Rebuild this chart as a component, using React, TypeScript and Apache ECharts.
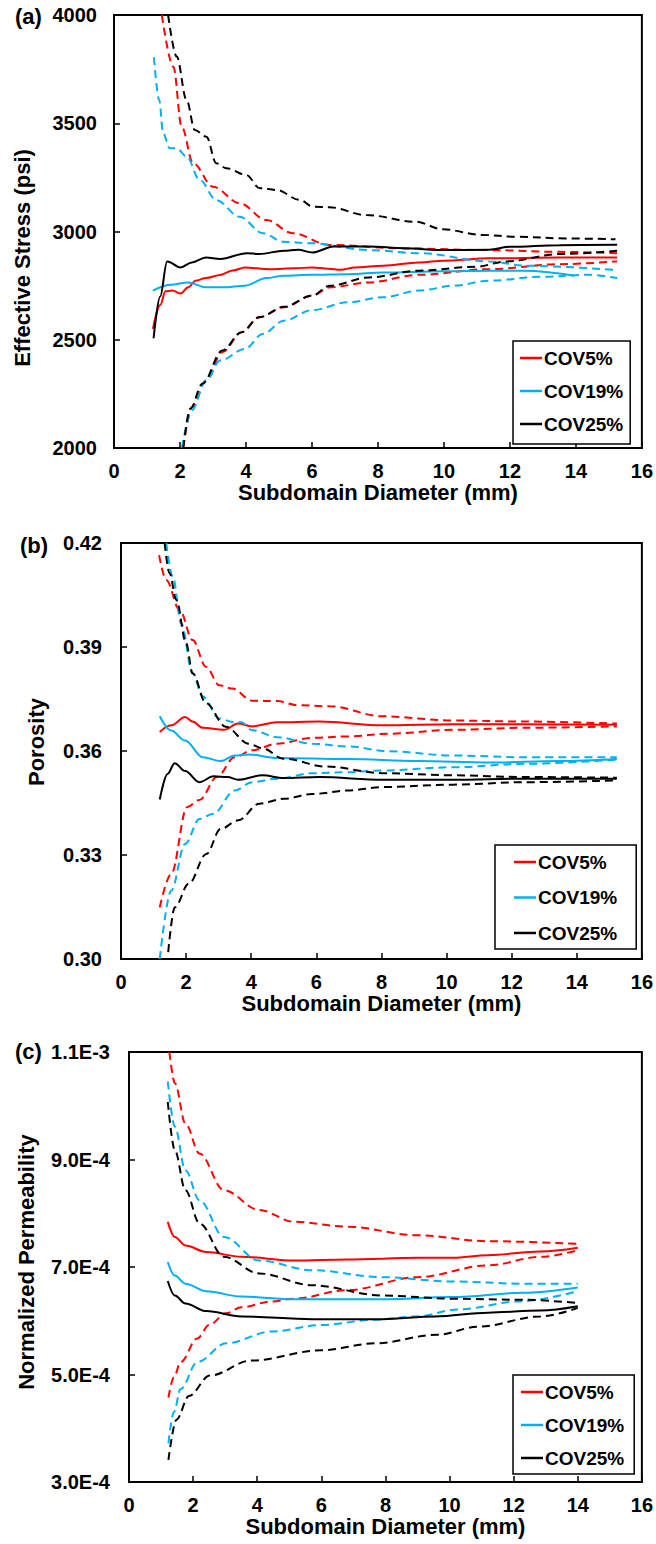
import React, { useEffect, useRef } from "react";
import * as echarts from "echarts";

// ---------- DATA ----------
const xTicksMax = 16;
const covNames = ["COV5%", "COV19%", "COV25%"];

// (a) Effective stress (psi): [diameter mm, value]
const stressCov5Mean: number[][] = [[1.18,2550],[1.4,2660],[1.56,2724],[1.77,2727],[2.02,2714],[2.25,2742],[2.47,2773],[2.79,2785],[3.22,2799],[3.6,2820],[3.97,2834],[4.73,2826],[5.5,2830],[6.01,2834],[6.5,2828],[6.87,2823],[7.3,2834],[8.16,2842],[9.24,2857],[9.99,2865],[11.38,2876],[13.5,2880],[15.25,2880]];
const stressCov5Upper: number[][] = [[1.45,4000],[1.8,3761],[2.05,3484],[2.4,3315],[3.0,3207],[3.81,3130],[4.62,3053],[5.42,2992],[6.53,2938],[8.8,2922],[11.38,2914],[13.5,2906],[15.25,2900]];
const stressCov5Lower: number[][] = [[2.1,2000],[2.36,2189],[2.79,2312],[3.28,2442],[3.87,2535],[4.4,2604],[5.15,2650],[6.01,2704],[6.55,2742],[7.73,2765],[9.24,2800],[11.38,2826],[13.5,2849],[15.25,2862]];
const stressCov19Mean: number[][] = [[1.18,2727],[1.72,2754],[2.25,2765],[2.79,2742],[3.33,2742],[3.97,2750],[4.62,2785],[5.15,2796],[6.01,2800],[7.09,2803],[8.16,2811],[9.99,2816],[11.38,2819],[12.46,2819],[13.96,2796]];
const stressCov19Upper: number[][] = [[1.21,3805],[1.37,3607],[1.49,3454],[1.69,3384],[1.9,3384],[2.2,3346],[2.6,3238],[3.1,3145],[3.81,3068],[4.52,2992],[5.12,2953],[5.93,2946],[7.73,2914],[9.24,2900],[11.38,2862],[12.46,2842],[15.25,2822]];
const stressCov19Lower: number[][] = [[2.06,2000],[2.36,2174],[2.79,2312],[3.22,2404],[3.97,2458],[4.51,2527],[5.15,2588],[6.01,2637],[7.09,2673],[8.16,2696],[9.24,2727],[10.31,2750],[11.38,2773],[12.99,2791],[14.39,2800],[15.25,2785]];
const stressCov25Mean: number[][] = [[1.2,2507],[1.4,2700],[1.61,2862],[2.02,2834],[2.36,2857],[2.79,2880],[3.22,2873],[4.03,2900],[4.4,2896],[5.15,2911],[5.58,2916],[6.01,2903],[6.66,2931],[7.73,2931],[8.8,2923],[9.99,2914],[11.38,2916],[12.0,2929],[13.5,2937],[15.25,2939]];
const stressCov25Upper: number[][] = [[1.64,4000],[1.9,3808],[2.2,3607],[2.45,3469],[2.8,3438],[3.1,3315],[3.41,3292],[4.01,3261],[4.42,3200],[4.92,3192],[5.63,3146],[6.03,3115],[6.53,3112],[7.64,3076],[9.15,3045],[9.96,3010],[11.17,2984],[12.18,2976],[13.69,2968],[15.2,2964]];
const stressCov25Lower: number[][] = [[2.1,2000],[2.31,2181],[2.68,2297],[3.28,2450],[3.87,2535],[4.4,2604],[5.15,2652],[6.01,2704],[6.55,2750],[7.73,2788],[9.24,2819],[10.95,2837],[11.92,2862],[13.5,2896],[15.25,2911]];

// (b) Porosity
const porCov5Mean: number[][] = [[1.19,0.3655],[1.54,0.3674],[1.97,0.3698],[2.2,0.3685],[2.51,0.3667],[3.16,0.3661],[3.6,0.3679],[4.03,0.3671],[4.79,0.3683],[6.09,0.3685],[8.04,0.3674],[10.2,0.3677],[12.37,0.3677],[15.23,0.3676]];
const porCov5Upper: number[][] = [[1.17,0.4165],[1.39,0.4093],[1.8,0.4007],[2.2,0.392],[2.61,0.3843],[3.02,0.379],[3.42,0.378],[4.03,0.3745],[4.79,0.3744],[5.44,0.3732],[6.41,0.3729],[8.04,0.37],[10.2,0.3688],[12.37,0.3685],[15.23,0.3679]];
const porCov5Lower: number[][] = [[1.19,0.3149],[1.54,0.3245],[2.03,0.3438],[2.41,0.3459],[2.95,0.3525],[3.49,0.3582],[4.03,0.3602],[4.79,0.3621],[5.87,0.3638],[6.96,0.3642],[8.25,0.365],[10.2,0.3661],[12.37,0.3667],[15.23,0.3671]];
const porCov19Mean: number[][] = [[1.19,0.37],[1.54,0.3659],[1.97,0.363],[2.51,0.3582],[3.06,0.3571],[3.49,0.3587],[3.92,0.359],[4.79,0.358],[6.96,0.3577],[9.12,0.3571],[11.29,0.3567],[13.46,0.3571],[15.23,0.3577]];
const porCov19Upper: number[][] = [[1.39,0.42],[1.59,0.4103],[1.85,0.3968],[2.2,0.3824],[2.51,0.3757],[3.02,0.3694],[3.42,0.3684],[3.7,0.3683],[4.03,0.366],[4.79,0.364],[5.87,0.3621],[6.96,0.3613],[8.25,0.3599],[10.2,0.3587],[12.37,0.3582],[15.23,0.3582]];
const porCov19Lower: number[][] = [[1.19,0.3],[1.54,0.3197],[1.97,0.3332],[2.41,0.3404],[2.84,0.3419],[3.49,0.3486],[4.03,0.351],[4.79,0.352],[5.87,0.3536],[6.96,0.3539],[8.04,0.3544],[10.2,0.3553],[12.37,0.3563],[15.23,0.3575]];
const porCov25Mean: number[][] = [[1.19,0.346],[1.43,0.3534],[1.65,0.3565],[1.97,0.3542],[2.41,0.351],[2.84,0.3527],[3.27,0.3525],[3.6,0.3517],[4.35,0.353],[4.99,0.3522],[6.09,0.3525],[8.04,0.3517],[10.2,0.3517],[12.37,0.352],[15.23,0.352]];
const porCov25Upper: number[][] = [[1.34,0.42],[1.49,0.4113],[1.7,0.4036],[2.0,0.3911],[2.2,0.3824],[2.61,0.3738],[3.22,0.367],[3.92,0.3621],[4.34,0.3608],[4.99,0.3578],[6.3,0.3555],[8.04,0.3536],[10.2,0.353],[12.37,0.3525],[15.23,0.3523]];
const porCov25Lower: number[][] = [[1.45,0.302],[1.65,0.3149],[2.08,0.3217],[2.62,0.3303],[3.06,0.3375],[3.6,0.34],[4.25,0.3448],[4.99,0.3462],[5.87,0.3476],[6.96,0.3486],[8.04,0.3496],[10.2,0.3503],[12.37,0.351],[15.23,0.3515]];

// (c) Normalized permeability
const permCov5Mean: number[][] = [[1.21,7.84e-4],[1.43,7.56e-4],[1.76,7.4e-4],[2.41,7.28e-4],[3.51,7.19e-4],[5.16,7.12e-4],[6.81,7.14e-4],[9.0,7.17e-4],[10.1,7.17e-4],[11.2,7.22e-4],[12.84,7.29e-4],[14.0,7.36e-4]];
const permCov5Upper: number[][] = [[1.26,1.1e-3],[1.43,1.042e-3],[1.76,9.67e-4],[2.2,9.11e-4],[2.96,8.43e-4],[4.06,8.06e-4],[5.16,7.84e-4],[6.81,7.75e-4],[9.0,7.59e-4],[11.2,7.48e-4],[14.0,7.43e-4]];
const permCov5Lower: number[][] = [[1.23,4.57e-4],[1.4,4.95e-4],[1.61,5.23e-4],[2.13,5.67e-4],[2.5,5.92e-4],[3.03,6.14e-4],[3.51,6.25e-4],[4.45,6.36e-4],[5.16,6.41e-4],[6.81,6.57e-4],[9.0,6.81e-4],[11.2,7.03e-4],[12.84,7.19e-4],[14.0,7.31e-4]];
const permCov19Mean: number[][] = [[1.21,7.09e-4],[1.43,6.84e-4],[1.76,6.69e-4],[2.41,6.55e-4],[3.51,6.45e-4],[5.16,6.4e-4],[7.9,6.4e-4],[10.1,6.44e-4],[12.29,6.52e-4],[14.0,6.62e-4]];
const permCov19Upper: number[][] = [[1.21,1.045e-3],[1.43,9.61e-4],[1.76,8.8e-4],[2.2,8.24e-4],[2.96,7.56e-4],[4.06,7.12e-4],[5.71,6.94e-4],[7.9,6.81e-4],[10.1,6.73e-4],[12.29,6.69e-4],[14.0,6.69e-4]];
const permCov19Lower: number[][] = [[1.23,3.72e-4],[1.4,4.3e-4],[1.61,4.73e-4],[2.13,5.23e-4],[3.03,5.58e-4],[4.45,5.8e-4],[6.0,5.92e-4],[7.68,6.02e-4],[8.97,6.08e-4],[10.26,6.21e-4],[12.19,6.36e-4],[14.0,6.55e-4]];
const permCov25Mean: number[][] = [[1.21,6.74e-4],[1.43,6.47e-4],[1.76,6.32e-4],[2.41,6.18e-4],[3.51,6.08e-4],[5.71,6.03e-4],[7.9,6.03e-4],[9.55,6.08e-4],[11.2,6.15e-4],[12.84,6.19e-4],[14.0,6.27e-4]];
const permCov25Upper: number[][] = [[1.21,1.007e-3],[1.43,9.17e-4],[1.76,8.43e-4],[2.2,7.81e-4],[2.96,7.19e-4],[4.06,6.88e-4],[5.71,6.66e-4],[7.9,6.47e-4],[10.1,6.41e-4],[12.29,6.39e-4],[14.0,6.33e-4]];
const permCov25Lower: number[][] = [[1.23,3.41e-4],[1.48,4.16e-4],[1.87,4.6e-4],[2.52,4.98e-4],[3.81,5.26e-4],[6.0,5.45e-4],[7.68,5.58e-4],[9.61,5.74e-4],[10.9,5.89e-4],[12.84,6.08e-4],[14.0,6.24e-4]];

// ---------- STYLE ----------
const FONT = '"Liberation Sans", Arial, Helvetica, sans-serif';
const COLORS = ["#FF0000", "#00B0F0", "#000000"];

type Panel = { mean: number[][]; upper: number[][]; lower: number[][] }[];
const panels: Panel[] = [
  [
    { mean: stressCov5Mean, upper: stressCov5Upper, lower: stressCov5Lower },
    { mean: stressCov19Mean, upper: stressCov19Upper, lower: stressCov19Lower },
    { mean: stressCov25Mean, upper: stressCov25Upper, lower: stressCov25Lower },
  ],
  [
    { mean: porCov5Mean, upper: porCov5Upper, lower: porCov5Lower },
    { mean: porCov19Mean, upper: porCov19Upper, lower: porCov19Lower },
    { mean: porCov25Mean, upper: porCov25Upper, lower: porCov25Lower },
  ],
  [
    { mean: permCov5Mean, upper: permCov5Upper, lower: permCov5Lower },
    { mean: permCov19Mean, upper: permCov19Upper, lower: permCov19Lower },
    { mean: permCov25Mean, upper: permCov25Upper, lower: permCov25Lower },
  ],
];

const grids = [
  { left: 114, top: 15, width: 529, height: 433 },
  { left: 121, top: 543, width: 525, height: 416 },
  { left: 129, top: 1052, width: 517, height: 430 },
];

const yCfg = [
  { min: 2000, max: 4000, interval: 500, fmt: (v: number) => String(Math.round(v)), margin: 17 },
  { min: 0.3, max: 0.42, interval: 0.03, fmt: (v: number) => v.toFixed(2), margin: 19 },
  { min: 3e-4, max: 1.1e-3, interval: 2e-4, fmt: (v: number) => v.toExponential(1).toUpperCase(), margin: 19 },
];

const legendCfg = [
  { left: 513, top: 341, padding: [7, 7, 10, 7], itemGap: 13 },
  { left: 495, top: 845, padding: [7, 19, 6, 19], itemGap: 15.5 },
  { left: 513, top: 1375, padding: [7, 10, 6, 8], itemGap: 13 },
];

const yTitles = [
  { text: "Effective Stress (psi)", x: 22, y: 258 },
  { text: "Porosity", x: 36, y: 742 },
  { text: "Normalized Permeability", x: 26, y: 1262 },
];
const panelTags = [
  { text: "(a)", x: 15, y: 16 },
  { text: "(b)", x: 20, y: 545 },
  { text: "(c)", x: 15, y: 1051 },
];

function buildOption() {
  const series: any[] = [];
  panels.forEach((panel, gi) => {
    panel.forEach((cov, ci) => {
      const color = COLORS[ci];
      const base = {
        type: "line",
        xAxisIndex: gi,
        yAxisIndex: gi,
        symbol: "none",
        smooth: 0.35,
        smoothMonotone: "x",
        silent: true,
        clip: true,
      };
      series.push({ ...base, name: covNames[ci] + " upper " + gi, data: cov.upper, lineStyle: { color, width: 2, type: [8, 5] }, itemStyle: { color } });
      series.push({ ...base, name: covNames[ci] + " lower " + gi, data: cov.lower, lineStyle: { color, width: 2, type: [8, 5] }, itemStyle: { color } });
      series.push({ ...base, name: covNames[ci], data: cov.mean, lineStyle: { color, width: 2, type: "solid" }, itemStyle: { color } });
    });
  });

  const xAxis = grids.map((_, gi) => ({
    type: "value",
    gridIndex: gi,
    min: 0,
    max: xTicksMax,
    interval: 2,
    name: "Subdomain Diameter (mm)",
    nameLocation: "middle",
    nameGap: 33,
    nameTextStyle: { fontFamily: FONT, fontSize: 22, fontWeight: "bold", color: "#000" },
    axisLine: { show: true, onZero: false, lineStyle: { color: "#000", width: 2 } },
    axisTick: { show: true, inside: true, length: 6, lineStyle: { color: "#000", width: 1.5 } },
    axisLabel: { fontFamily: FONT, fontSize: 20, fontWeight: "bold", color: "#000", margin: 13 },
    splitLine: { show: false },
  }));

  const yAxis = yCfg.map((c, gi) => ({
    type: "value",
    gridIndex: gi,
    min: c.min,
    max: c.max,
    interval: c.interval,
    axisLine: { show: true, onZero: false, lineStyle: { color: "#000", width: 2 } },
    axisTick: { show: true, inside: true, length: 6, lineStyle: { color: "#000", width: 1.5 } },
    axisLabel: { fontFamily: FONT, fontSize: 20, fontWeight: "bold", color: "#000", margin: c.margin, formatter: c.fmt },
    splitLine: { show: false },
  }));

  const legend = legendCfg.map((l) => ({
    orient: "vertical",
    left: l.left,
    top: l.top,
    padding: l.padding,
    itemGap: l.itemGap,
    itemWidth: 22,
    itemHeight: 2.5,
    icon: "rect",
    borderColor: "#000",
    borderWidth: 1.5,
    backgroundColor: "#fff",
    selectedMode: false,
    data: covNames.map((n) => ({ name: n, icon: "rect" })),
    textStyle: { fontFamily: FONT, fontSize: 19, fontWeight: "bold", color: "#000", lineHeight: 20, padding: [0, 0, 0, -3] },
  }));

  const graphic: any[] = [];
  yTitles.forEach((t) =>
    graphic.push({
      type: "text",
      x: t.x,
      y: t.y,
      rotation: Math.PI / 2,
      silent: true,
      style: { text: t.text, fontFamily: FONT, fontSize: 22, fontWeight: "bold", fill: "#000", align: "center", verticalAlign: "middle" },
    })
  );
  panelTags.forEach((t) =>
    graphic.push({
      type: "text",
      x: t.x,
      y: t.y,
      silent: true,
      style: { text: t.text, fontFamily: FONT, fontSize: 22, fontWeight: "bold", fill: "#000", align: "left", verticalAlign: "middle" },
    })
  );

  return {
    animation: false,
    backgroundColor: "#fff",
    grid: grids.map((g) => ({ ...g, show: true, borderColor: "#000", borderWidth: 2, backgroundColor: "transparent" })),
    xAxis,
    yAxis,
    legend,
    graphic,
    series,
  };
}

export default function App() {
  const ref = useRef<HTMLDivElement>(null);
  useEffect(() => {
    if (!ref.current) return;
    const chart = echarts.init(ref.current, null, { renderer: "svg" });
    chart.setOption(buildOption() as any);
    return () => chart.dispose();
  }, []);
  return (
    <div
      ref={ref}
      style={{ position: "absolute", left: 0, top: 0, width: 656, height: 1544, background: "#fff" }}
    />
  );
}
